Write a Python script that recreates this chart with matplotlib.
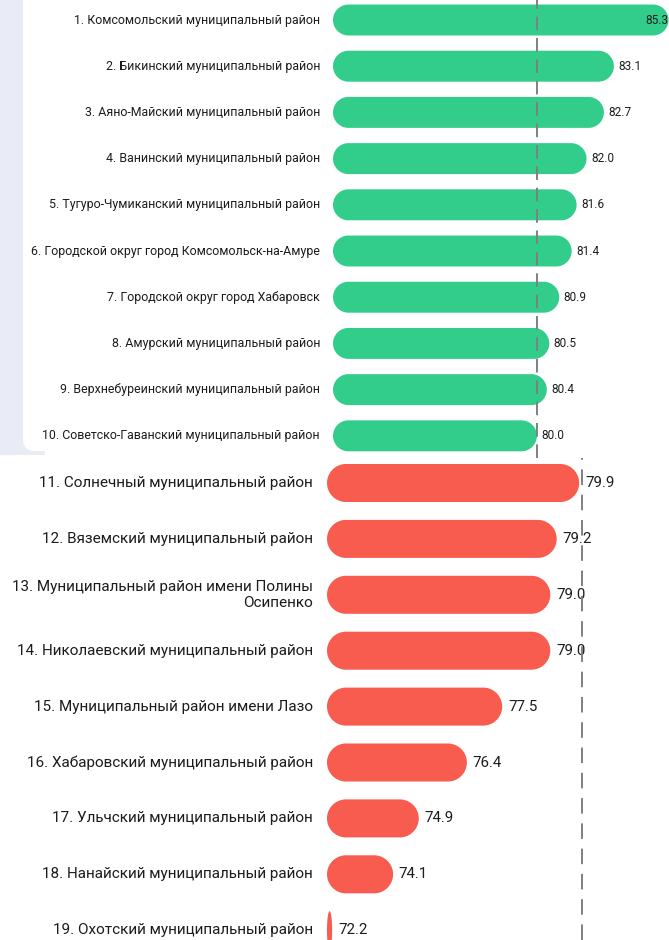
import numpy as np
import matplotlib.pyplot as plt
from matplotlib.patches import Polygon, Rectangle, FancyBboxPatch

plt.rcParams['font.family'] = ['Roboto', 'DejaVu Sans']

# top block (green)
top_names = [
    '1. Комсомольский муниципальный район',
    '2. Бикинский муниципальный район',
    '3. Аяно-Майский муниципальный район',
    '4. Ванинский муниципальный район',
    '5. Тугуро-Чумиканский муниципальный район',
    '6. Городской округ город Комсомольск-на-Амуре',
    '7. Городской округ город Хабаровск',
    '8. Амурский муниципальный район',
    '9. Верхнебуреинский муниципальный район',
    '10. Советско-Гаванский муниципальный район',
]
top_vals = [85.3, 83.1, 82.7, 82.0, 81.6, 81.4, 80.9, 80.5, 80.4, 80.0]

# bottom block (red)
bot_names = [
    '11. Солнечный муниципальный район',
    '12. Вяземский муниципальный район',
    '13. Муниципальный район имени Полины\nОсипенко',
    '14. Николаевский муниципальный район',
    '15. Муниципальный район имени Лазо',
    '16. Хабаровский муниципальный район',
    '17. Ульчский муниципальный район',
    '18. Нанайский муниципальный район',
    '19. Охотский муниципальный район',
]
bot_vals = [79.9, 79.2, 79.0, 79.0, 77.5, 76.4, 74.9, 74.1, 72.2]

avg_line = 80.0

W, H = 669, 940
fig = plt.figure(figsize=(W / 100, H / 100), dpi=100)

# background (pixel coordinates)
bg = fig.add_axes([0, 0, 1, 1])
bg.set_xlim(0, W)
bg.set_ylim(H, 0)
bg.axis('off')
bg.add_patch(Rectangle((0, 0), 45, 455, color='#e9ecf6', lw=0))
bg.add_patch(FancyBboxPatch((23, -40), W + 40, 491, boxstyle='round,pad=0,rounding_size=12',
                            fc='white', ec='none'))


def px_axes(left, top, right, bottom):
    return fig.add_axes([left / W, 1 - bottom / H, (right - left) / W, (bottom - top) / H])


def rounded_bar(ax, x0, x1, y, h, color):
    # pill shaped bar, elliptical caps when the bar is shorter than its height
    p0 = ax.transData.transform((0, 0))
    p1 = ax.transData.transform((1, 1))
    ppx = abs(p1[0] - p0[0])
    ppy = abs(p1[1] - p0[1])
    ry = h / 2
    rx = min(ry * ppy / ppx, (x1 - x0) / 2)
    t = np.linspace(0, np.pi / 2, 20)
    pts = []
    for cx, cy, a0 in [(x1 - rx, y - h / 2 + ry, -np.pi / 2), (x1 - rx, y + h / 2 - ry, 0),
                       (x0 + rx, y + h / 2 - ry, np.pi / 2), (x0 + rx, y - h / 2 + ry, np.pi)]:
        ang = t + a0
        pts += list(zip(cx + rx * np.cos(ang), cy + ry * np.sin(ang)))
    ax.add_patch(Polygon(pts, closed=True, fc=color, ec='none', zorder=2))


def block(ax, names, vals, color, xlim, ylim, bar_h, lab_size, val_size, pad, dash):
    ax.set_xlim(*xlim)
    ax.set_ylim(*ylim)
    ax.axis('off')
    for i, (n, v) in enumerate(zip(names, vals)):
        rounded_bar(ax, xlim[0], v, i, bar_h, color)
        ax.text(-pad, i, n, transform=ax.get_yaxis_transform(), ha='right', va='center',
                multialignment='right', fontsize=lab_size, color='#1c1c1c')
        if v + 0.4 > xlim[1]:
            ax.text(xlim[1] - 0.02, i, f'{v:.1f}', ha='right', va='center',
                    fontsize=val_size, color='#1c1c1c', zorder=3)
        else:
            ax.text(v + 0.18, i, f'{v:.1f}', ha='left', va='center',
                    fontsize=val_size, color='#1c1c1c', zorder=3)
    ax.axvline(avg_line, color='#808080', lw=1.4, dashes=dash, zorder=4)


ax1 = px_axes(333, 0, W, 458)
block(ax1, top_names, top_vals, '#33cd8b', (71.79, 85.32), (9.48, -0.433), 0.67,
      8.9, 8.5, 0.039, (7, 4))

ax2 = px_axes(327, 458, W, H)
block(ax2, bot_names, bot_vals, '#f75c4f', (72.04, 82.7), (8.175, -0.447), 0.68,
      11, 10.8, 0.041, (8, 5))

fig.savefig('out.png', dpi=100)
